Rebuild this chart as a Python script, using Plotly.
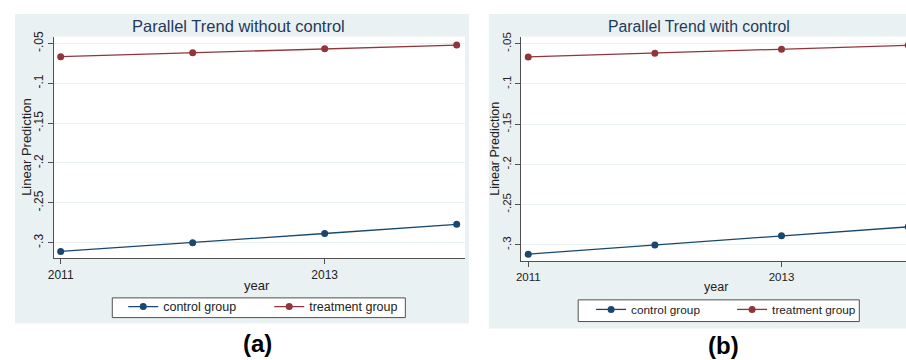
import plotly.graph_objects as go

# ---- data ----
years = [2011, 2012, 2013, 2014]
control_a = [-0.311, -0.300, -0.2885, -0.277]
treatment_a = [-0.0665, -0.0615, -0.0566, -0.052]
control_b = [-0.3115, -0.300, -0.2886, -0.2776]
treatment_b = [-0.0664, -0.0619, -0.057, -0.052]
series_names = ["control group", "treatment group"]
ytick_vals = [-0.3, -0.25, -0.2, -0.15, -0.1, -0.05]
ytick_text = ["-.3", "-.25", "-.2", "-.15", "-.1", "-.05"]
xtick_vals = [2011, 2013]
xtick_text = ["2011", "2013"]
titles = ["Parallel Trend without control", "Parallel Trend with control"]
panel_labels = ["(a)", "(b)"]

W, H = 906, 360
NAVY = "#1a476f"
MAROON = "#90353b"
BG = "#eaf1f3"
FONT = "Liberation Sans, Arial, sans-serif"
AXC = "#505050"

def px(x):
    return x / W

def py(y):
    return 1 - y / H

fig = go.Figure()

for (ctrl, treat, xa, ya, lg) in [
    (control_a, treatment_a, "x", "y", "legend"),
    (control_b, treatment_b, "x2", "y2", "legend2"),
]:
    fig.add_trace(go.Scatter(x=years, y=ctrl, name=series_names[0], mode="lines+markers",
                             line=dict(color=NAVY, width=1.3), marker=dict(color=NAVY, size=7),
                             xaxis=xa, yaxis=ya, legend=lg))
    fig.add_trace(go.Scatter(x=years, y=treat, name=series_names[1], mode="lines+markers",
                             line=dict(color=MAROON, width=1.3), marker=dict(color=MAROON, size=7),
                             xaxis=xa, yaxis=ya, legend=lg))

# panel geometry (pixels)
panels = [
    dict(bg=(9, 9, 466, 323), plot=(48, 32, 462, 257), xr=[2010.947, 2014.0625], yr=[-0.3198, -0.0413],
         title=(234, 21, 16.5), ytitle=(20, 144, 13), xtitle=(253, 284, 13), tick=12,
         legbox=(107, 297, 402, 317), leg=(118, 291, 101, 12.5), label=(253, 343)),
    dict(bg=(486, 9, 906, 328), plot=(518.7, 32, 906, 260), xr=[2010.945, 2013.983], yr=[-0.3205, -0.0411],
         title=(697.5, 22, 15.8), ytitle=(492, 146, 12.5), xtitle=(715, 286, 12.5), tick=11.5,
         legbox=(576, 299, 859, 321), leg=(589, 294, 96, 11.8), label=(722, 345)),
]

shapes = []
annotations = []
layout_extra = {}
for i, p in enumerate(panels):
    x0, y0, x1, y1 = p["bg"]
    shapes.append(dict(type="rect", xref="paper", yref="paper", x0=px(x0), x1=px(x1), y0=py(y1), y1=py(y0),
                       fillcolor=BG, line=dict(width=0), layer="below"))
    a0, b0, a1, b1 = p["plot"]
    shapes.append(dict(type="rect", xref="paper", yref="paper", x0=px(a0), x1=px(a1), y0=py(b1), y1=py(b0),
                       fillcolor="white", line=dict(width=0), layer="below"))
    l0, m0, l1, m1 = p["legbox"]
    shapes.append(dict(type="rect", xref="paper", yref="paper", x0=px(l0), x1=px(l1), y0=py(m1), y1=py(m0),
                       fillcolor="white", line=dict(width=1, color=AXC), layer="below"))
    sfx = "" if i == 0 else str(i + 1)
    axis_common = dict(showline=True, linecolor=AXC, linewidth=1, ticks="outside", ticklen=5,
                       tickcolor=AXC, tickfont=dict(size=p["tick"], color="#222222", family=FONT),
                       zeroline=False, fixedrange=True)
    layout_extra["xaxis" + sfx] = dict(domain=[px(a0), min(px(a1), 1.0)], range=p["xr"], tickvals=xtick_vals,
                                       ticktext=xtick_text, showgrid=False, anchor="y" + sfx, **axis_common)
    layout_extra["yaxis" + sfx] = dict(domain=[py(b1), py(b0)], range=p["yr"], tickvals=ytick_vals,
                                       ticktext=ytick_text, tickangle=-90, showgrid=True, gridcolor=BG,
                                       gridwidth=1, anchor="x" + sfx, **axis_common)
    lx, ly, ew, lfs = p["leg"]
    layout_extra["legend" + sfx] = dict(orientation="h", bgcolor="rgba(0,0,0,0)", borderwidth=0,
                                        font=dict(size=lfs, color="#222222", family=FONT),
                                        x=px(lx), y=py(ly), xanchor="left", yanchor="top",
                                        entrywidth=ew, entrywidthmode="pixels")
    tx, ty, tfs = p["title"]
    annotations.append(dict(text=titles[i], x=px(tx), y=py(ty), xref="paper", yref="paper",
                            xanchor="center", yanchor="middle", showarrow=False,
                            font=dict(size=tfs, color="#1f3a5a", family=FONT)))
    yx, yy, yfs = p["ytitle"]
    annotations.append(dict(text="Linear Prediction", x=px(yx), y=py(yy), xref="paper", yref="paper",
                            xanchor="center", yanchor="middle", showarrow=False, textangle=-90,
                            font=dict(size=yfs, color="#222222", family=FONT)))
    xx, xy, xfs = p["xtitle"]
    annotations.append(dict(text="year", x=px(xx), y=py(xy), xref="paper", yref="paper",
                            xanchor="center", yanchor="middle", showarrow=False,
                            font=dict(size=xfs, color="#222222", family=FONT)))
    lbx, lby = p["label"]
    annotations.append(dict(text="<b>" + panel_labels[i] + "</b>", x=px(lbx), y=py(lby), xref="paper",
                            yref="paper", xanchor="center", yanchor="middle", showarrow=False,
                            font=dict(size=24, color="black", family=FONT)))

fig.update_layout(
    width=W, height=H,
    margin=dict(l=0, r=0, t=0, b=0),
    paper_bgcolor="white",
    plot_bgcolor="rgba(0,0,0,0)",
    shapes=shapes,
    annotations=annotations,
    font=dict(family=FONT),
    **layout_extra,
)

fig.write_html("out.html")
